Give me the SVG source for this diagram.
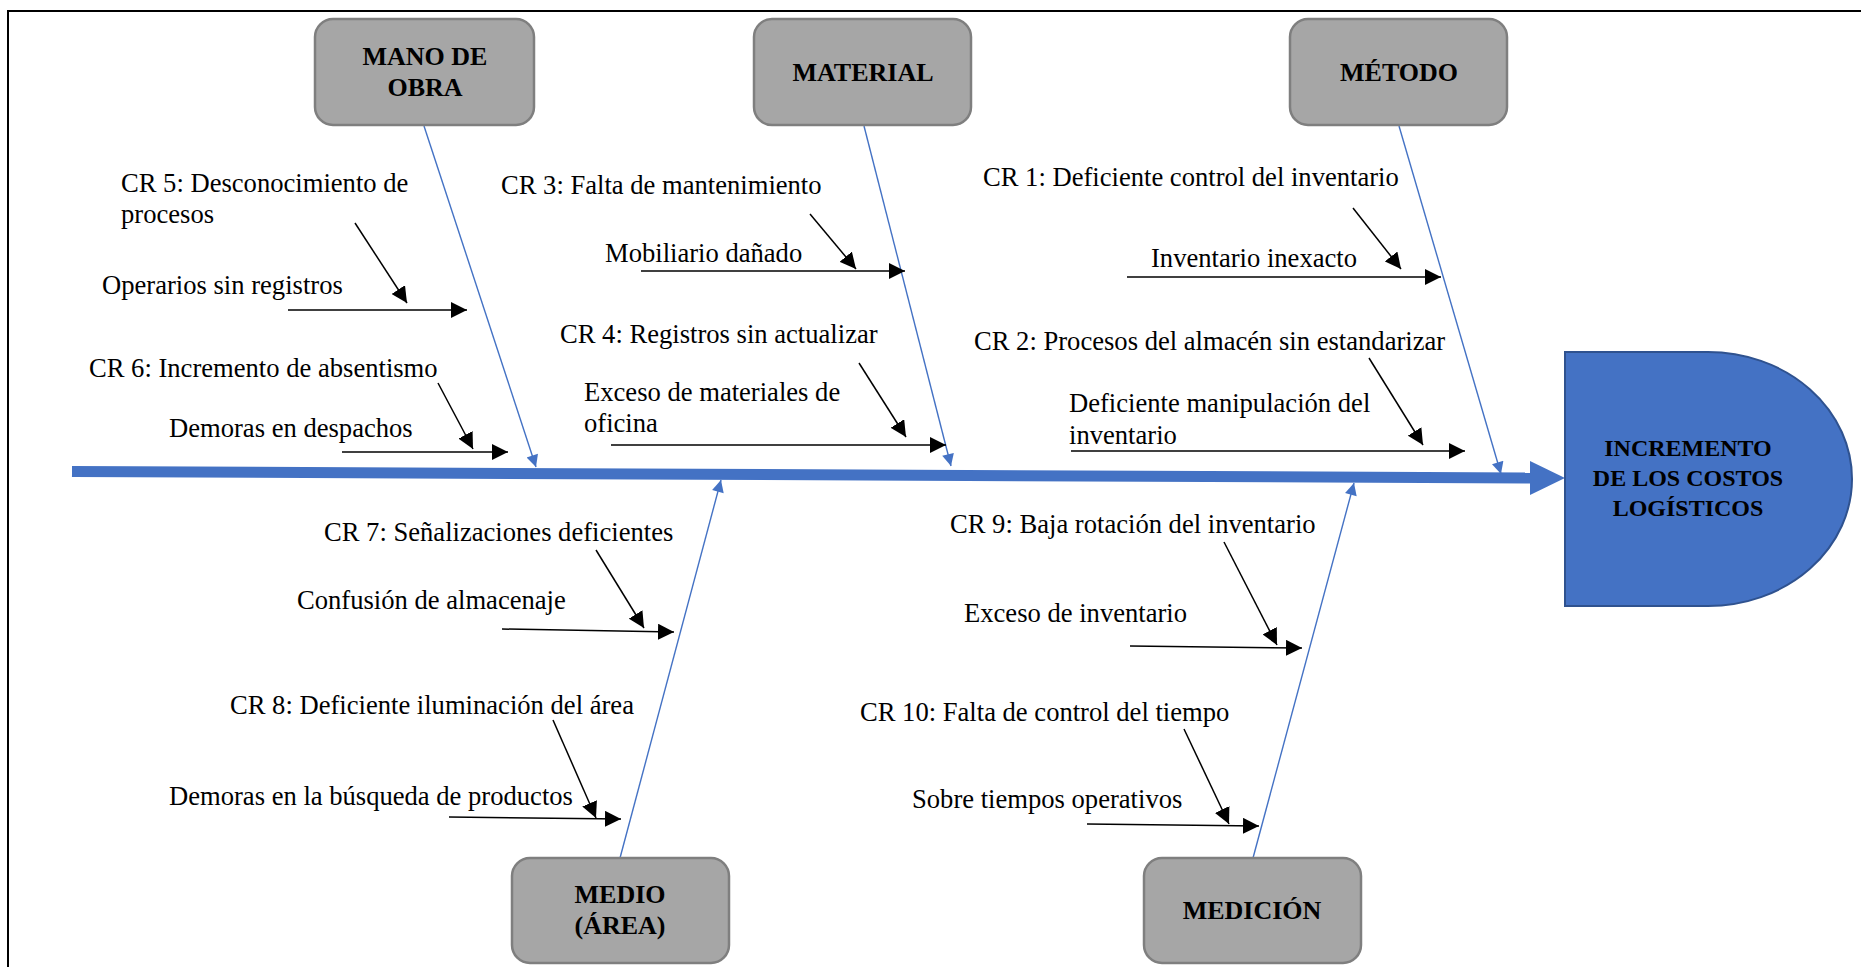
<svg xmlns="http://www.w3.org/2000/svg" width="1861" height="967" viewBox="0 0 1861 967">
<defs>
<style>
.box{fill:#A6A6A6;stroke:#7F7F7F;stroke-width:2.5}
.bt{font-family:"Liberation Serif","Times New Roman",serif;font-weight:bold;font-size:26px;fill:#000;text-anchor:middle}
.ht{font-family:"Liberation Serif","Times New Roman",serif;font-weight:bold;font-size:24px;fill:#000;text-anchor:middle}
.t{font-family:"Liberation Serif","Times New Roman",serif;font-size:26.6px;fill:#000}
.bone{stroke:#4472C4;stroke-width:1.4;fill:none;marker-end:url(#ba)}
.sub{stroke:#000;stroke-width:1.5;fill:none;marker-end:url(#ka)}
</style>
<marker id="ka" viewBox="0 0 10 10" refX="10" refY="5" markerWidth="16" markerHeight="16" markerUnits="userSpaceOnUse" orient="auto">
<path d="M0,0 L10,5 L0,10 Z" fill="#000"/>
</marker>
<marker id="ba" viewBox="0 0 10 10" refX="10" refY="5" markerWidth="15" markerHeight="12" markerUnits="userSpaceOnUse" orient="auto">
<path d="M0,0 L10,5 L0,10 Z" fill="#4472C4"/>
</marker>
</defs>
<rect x="0" y="0" width="1861" height="967" fill="#fff"/>
<rect x="8" y="11" width="1900" height="1000" fill="none" stroke="#000" stroke-width="2"/>

<g id="connectors">
<line x1="72" y1="471.5" x2="1532" y2="478" stroke="#4472C4" stroke-width="11"/>
<polygon points="1530,461 1565,478 1530,495" fill="#4472C4"/>
<line class="bone" x1="424" y1="126" x2="536" y2="467"/>
<line class="bone" x1="864" y1="126" x2="951" y2="466"/>
<line class="bone" x1="1399" y1="126" x2="1501" y2="474"/>
<line class="bone" x1="620" y1="858" x2="721" y2="480"/>
<line class="bone" x1="1253" y1="858" x2="1354" y2="483"/>
<line class="sub" x1="288" y1="310" x2="467" y2="310"/>
<line class="sub" x1="355" y1="223" x2="407" y2="303"/>
<line class="sub" x1="342" y1="452" x2="508" y2="452"/>
<line class="sub" x1="438" y1="383" x2="473" y2="449"/>
<line class="sub" x1="641" y1="271" x2="905" y2="271"/>
<line class="sub" x1="810" y1="214" x2="856" y2="269"/>
<line class="sub" x1="611" y1="445" x2="946" y2="445"/>
<line class="sub" x1="859" y1="363" x2="906" y2="437"/>
<line class="sub" x1="1127" y1="277" x2="1441" y2="277"/>
<line class="sub" x1="1353" y1="208" x2="1401" y2="269"/>
<line class="sub" x1="1071" y1="451" x2="1465" y2="451"/>
<line class="sub" x1="1369" y1="358" x2="1423" y2="445"/>
<line class="sub" x1="502" y1="629" x2="674" y2="632"/>
<line class="sub" x1="596" y1="550" x2="644" y2="628"/>
<line class="sub" x1="449" y1="817" x2="621" y2="819"/>
<line class="sub" x1="553" y1="720" x2="596" y2="818"/>
<line class="sub" x1="1130" y1="646" x2="1302" y2="648"/>
<line class="sub" x1="1224" y1="542" x2="1277" y2="645"/>
<line class="sub" x1="1087" y1="824" x2="1259" y2="826"/>
<line class="sub" x1="1184" y1="729" x2="1229" y2="824"/>
</g>

<g id="mano-de-obra">
<rect class="box" x="315" y="19" width="219" height="106" rx="18"/>
<text class="bt" x="425" y="65">MANO DE</text>
<text class="bt" x="425" y="96">OBRA</text>
</g>
<g id="material">
<rect class="box" x="754" y="19" width="217" height="106" rx="18"/>
<text class="bt" x="863" y="81">MATERIAL</text>
</g>
<g id="metodo">
<rect class="box" x="1290" y="19" width="217" height="106" rx="18"/>
<text class="bt" x="1399" y="81">MÉTODO</text>
</g>
<g id="medio">
<rect class="box" x="512" y="858" width="217" height="105" rx="18"/>
<text class="bt" x="620" y="903">MEDIO</text>
<text class="bt" x="620" y="934">(ÁREA)</text>
</g>
<g id="medicion">
<rect class="box" x="1144" y="858" width="217" height="105" rx="18"/>
<text class="bt" x="1252" y="919">MEDICIÓN</text>
</g>
<g id="efecto">
<path d="M1565,352 L1708,352 A144,127 0 0 1 1708,606 L1565,606 Z" fill="#4472C4" stroke="#2F528F" stroke-width="2"/>
<text class="ht" x="1688" y="456">INCREMENTO</text>
<text class="ht" x="1688" y="486">DE LOS COSTOS</text>
<text class="ht" x="1688" y="516">LOGÍSTICOS</text>
</g>

<g id="causas-mano-de-obra">
<text class="t" x="121" y="192">CR 5: Desconocimiento de</text>
<text class="t" x="121" y="223">procesos</text>
<text class="t" x="102" y="294">Operarios sin registros</text>
<text class="t" x="89" y="377">CR 6: Incremento de absentismo</text>
<text class="t" x="169" y="437">Demoras en despachos</text>
</g>
<g id="causas-material">
<text class="t" x="501" y="194">CR 3: Falta de mantenimiento</text>
<text class="t" x="605" y="262">Mobiliario dañado</text>
<text class="t" x="560" y="343">CR 4: Registros sin actualizar</text>
<text class="t" x="584" y="401">Exceso de materiales de</text>
<text class="t" x="584" y="432">oficina</text>
</g>
<g id="causas-metodo">
<text class="t" x="983" y="186">CR 1: Deficiente control del inventario</text>
<text class="t" x="1151" y="267">Inventario inexacto</text>
<text class="t" x="974" y="350">CR 2: Procesos del almacén sin estandarizar</text>
<text class="t" x="1069" y="412">Deficiente manipulación del</text>
<text class="t" x="1069" y="444">inventario</text>
</g>
<g id="causas-medio">
<text class="t" x="324" y="541">CR 7: Señalizaciones deficientes</text>
<text class="t" x="297" y="609">Confusión de almacenaje</text>
<text class="t" x="230" y="714">CR 8: Deficiente iluminación del área</text>
<text class="t" x="169" y="805">Demoras en la búsqueda de productos</text>
</g>
<g id="causas-medicion">
<text class="t" x="950" y="533">CR 9: Baja rotación del inventario</text>
<text class="t" x="964" y="622">Exceso de inventario</text>
<text class="t" x="860" y="721">CR 10: Falta de control del tiempo</text>
<text class="t" x="912" y="808">Sobre tiempos operativos</text>
</g>
</svg>
